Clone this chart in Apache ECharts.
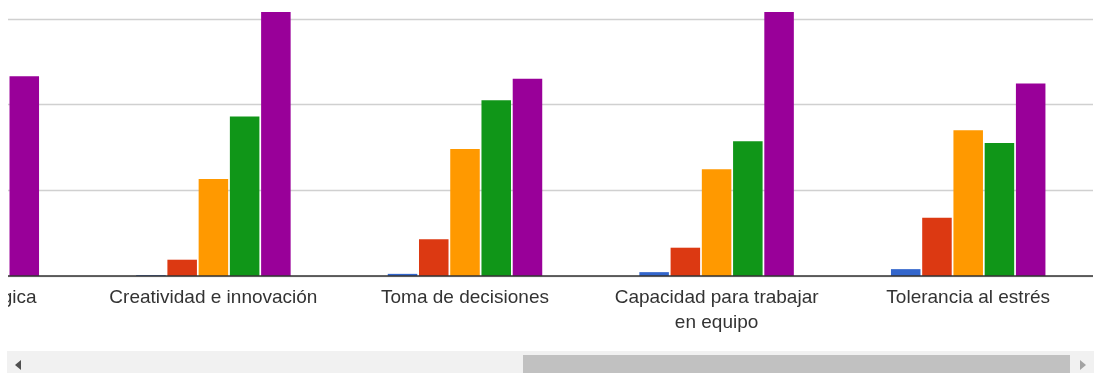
<!DOCTYPE html>
<html>
<head>
<meta charset="utf-8">
<title>Competencias</title>
<script src="https://cdn.jsdelivr.net/npm/echarts@6/dist/echarts.min.js"></script>
<style>
  html, body { margin: 0; padding: 0; background: #ffffff; }
  body { width: 1098px; height: 373px; position: relative; overflow: hidden; }
  /* visible window of the horizontally scrolled chart */
  #viewport { position: absolute; left: 8px; top: 0; width: 1085px; height: 350px; overflow: hidden; }
  /* the chart itself is wider and taller than the window; it is scrolled to its right end */
  #chart { position: absolute; left: -172.4px; top: -66.7px; width: 1257.5px; height: 416.7px; }
  /* scrollbar under the chart */
  #track { position: absolute; left: 7px; top: 351px; width: 1087px; height: 22px; background: #f1f1f1; }
  #thumb { position: absolute; left: 523px; top: 355px; width: 547px; height: 18px; background: #c1c1c1; }
  .arrow { position: absolute; width: 0; height: 0; border-top: 5.5px solid transparent; border-bottom: 5.5px solid transparent; }
  #arrowLeft { left: 15px; top: 360px; border-right: 6px solid #505050; }
  #arrowRight { left: 1080px; top: 360px; border-left: 6px solid #a3a3a3; }
</style>
</head>
<body>
<div id="viewport"><div id="chart"></div></div>
<div id="track"></div>
<div id="thumb"></div>
<div id="arrowLeft" class="arrow"></div>
<div id="arrowRight" class="arrow"></div>
<script>
// Competencies on the horizontal axis (the first one is partly scrolled out of view)
var categories = [
  'Visión estratégica',
  'Creatividad e innovación',
  'Toma de decisiones',
  'Capacidad para trabajar\nen equipo',
  'Tolerancia al estrés'
];

// One series per rating level
var level1 = [null, 0.1, 0.25, 0.45, 0.8];
var level2 = [null, 1.9, 4.3, 3.3, 6.8];
var level3 = [null, 11.3, 14.8, 12.45, 17.0];
var level4 = [null, 18.6, 20.5, 15.7, 15.5];
var level5 = [23.3, 30.8, 23.0, 30.8, 22.45];

var seriesNames = ['1', '2', '3', '4', '5'];
var seriesData = [level1, level2, level3, level4, level5];
var colors = ['#3366cc', '#dc3912', '#ff9900', '#109618', '#990099'];

var chart = echarts.init(document.getElementById('chart'), null, { renderer: 'canvas' });

var series = seriesData.map(function (d, i) {
  return {
    name: seriesNames[i],
    type: 'bar',
    data: d,
    barGap: '5.8%',
    barCategoryGap: '38.6%',
    itemStyle: { color: colors[i] },
    emphasis: { disabled: true }
  };
});

chart.setOption({
  animation: false,
  color: colors,
  grid: { left: 0, right: 0, top: 0, bottom: 74, containLabel: false },
  xAxis: {
    type: 'category',
    data: categories,
    axisLine: { show: true, lineStyle: { color: '#333333', width: 1.5 } },
    axisTick: { show: false },
    axisLabel: {
      interval: 0,
      margin: 9,
      color: '#333333',
      fontFamily: '"Liberation Sans", Arial, sans-serif',
      fontSize: 19,
      lineHeight: 25,
      align: 'center'
    },
    z: 3
  },
  yAxis: {
    type: 'value',
    min: 0,
    max: 40,
    interval: 10,
    axisLine: { show: false },
    axisTick: { show: false },
    axisLabel: { show: false },
    splitLine: { show: true, lineStyle: { color: '#d0d0d0', width: 1.3 } }
  },
  series: series
});
</script>
</body>
</html>
